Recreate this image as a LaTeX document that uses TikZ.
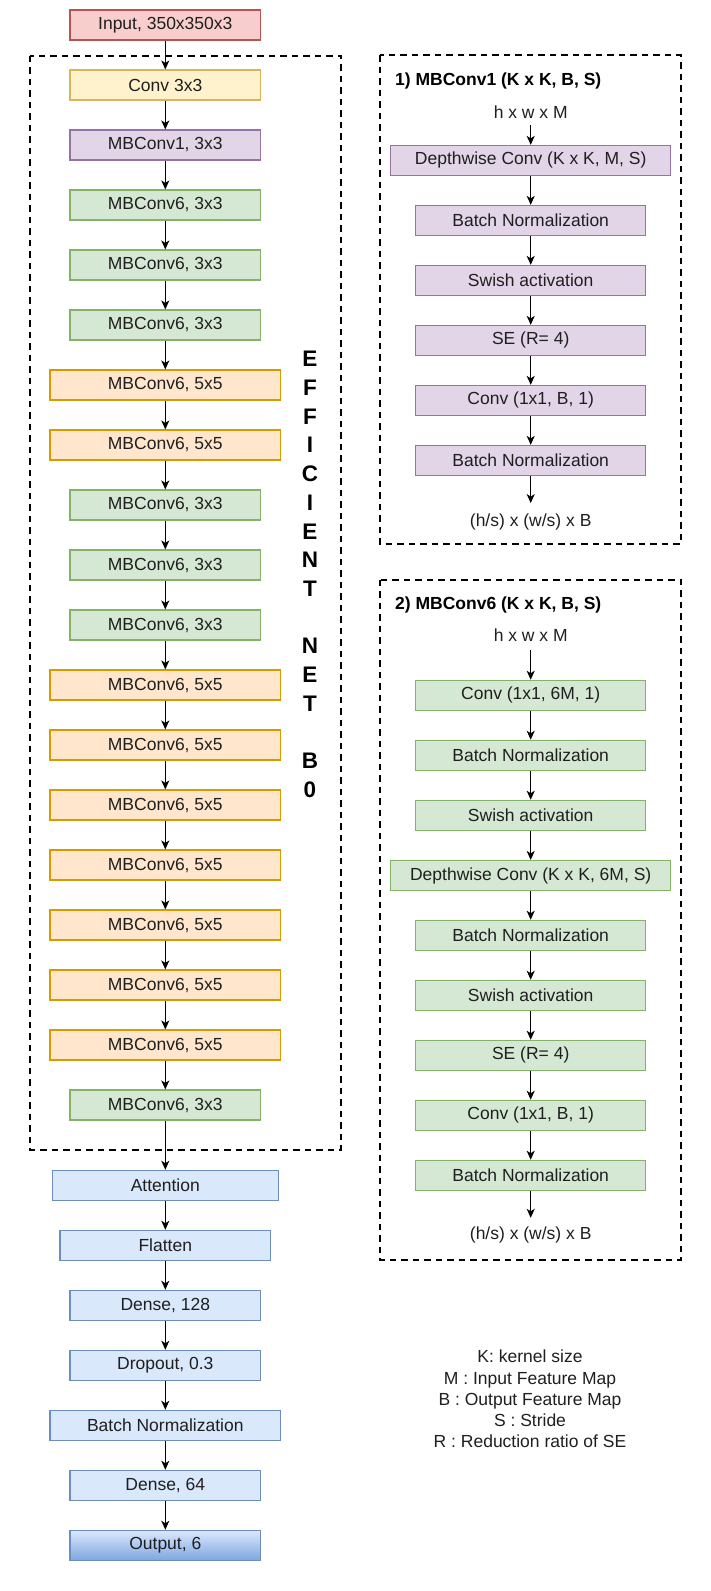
\documentclass[tikz,border=0pt]{standalone}
\usepackage{fontspec}
\setmainfont{Liberation Sans}
\usetikzlibrary{arrows.meta}

\definecolor{txt}{HTML}{1F1F1F}
\definecolor{redF}{HTML}{F8CECC}\definecolor{redS}{HTML}{B85450}
\definecolor{yelF}{HTML}{FFF2CC}\definecolor{yelS}{HTML}{D6B656}
\definecolor{purF}{HTML}{E1D5E7}\definecolor{purS}{HTML}{9673A6}
\definecolor{grnF}{HTML}{D5E8D4}\definecolor{grnS}{HTML}{82B366}
\definecolor{orgF}{HTML}{FFE6CC}\definecolor{orgS}{HTML}{D79B00}
\definecolor{bluF}{HTML}{DAE8FC}\definecolor{bluS}{HTML}{6C8EBF}
\definecolor{bluD}{HTML}{7EA6E0}

\newcommand{\bodyfont}{\fontsize{17.5}{21}\selectfont}
\newcommand{\bigbold}{\fontsize{22.5}{28.7}\selectfont\bfseries}

\begin{document}
\begin{tikzpicture}[x=1pt,y=-1pt,
  box/.style={draw, line width=1.1pt, minimum height=30pt, inner sep=0pt,
              font=\bodyfont, text=txt},
  narrow/.style={box, minimum width=190.7pt},
  wide/.style={box, minimum width=230.7pt},
  inp/.style={narrow, fill=redF, draw=redS},
  cv/.style={narrow, fill=yelF, draw=yelS},
  mb1/.style={narrow, fill=purF, draw=purS},
  g3/.style={narrow, fill=grnF, draw=grnS},
  o5/.style={wide, fill=orgF, draw=orgS},
  att/.style={box, minimum width=225.6pt, fill=bluF, draw=bluS},
  flt/.style={box, minimum width=210.7pt, fill=bluF, draw=bluS},
  bn/.style={narrow, fill=bluF, draw=bluS},
  bw/.style={wide, fill=bluF, draw=bluS},
  outp/.style={narrow, draw=bluS, top color=bluF, bottom color=bluD},
  pw/.style={box, minimum width=280pt},
  pn/.style={box, minimum width=230pt},
  pur/.style={fill=purF, draw=purS},
  grn/.style={fill=grnF, draw=grnS},
  lbl/.style={inner sep=0pt, font=\bodyfont, text=txt},
  arr/.style={draw=black, line width=1.2pt, -{Stealth[length=9pt,width=8pt,inset=2.5pt]}},
  frame/.style={draw=black, line width=2pt, dash pattern=on 6.5pt off 5pt}
]
\useasboundingbox[fill=white] (0,0) rectangle (711,1591);

% dashed frames
\draw[frame] (30.3,55.7) rectangle (340.7,1150);
\draw[frame] (380,55) rectangle (680.7,544);
\draw[frame] (380,579.5) rectangle (680.7,1260);

% main network column
\foreach \n/\y/\s/\t in {
   1/25/inp/{Input, 350x350x3},
   2/85/cv/{Conv 3x3},
   3/145/mb1/{MBConv1, 3x3},
   4/205/g3/{MBConv6, 3x3},
   5/265/g3/{MBConv6, 3x3},
   6/325/g3/{MBConv6, 3x3},
   7/385/o5/{MBConv6, 5x5},
   8/445/o5/{MBConv6, 5x5},
   9/505/g3/{MBConv6, 3x3},
   10/565/g3/{MBConv6, 3x3},
   11/625/g3/{MBConv6, 3x3},
   12/685/o5/{MBConv6, 5x5},
   13/745/o5/{MBConv6, 5x5},
   14/805/o5/{MBConv6, 5x5},
   15/865/o5/{MBConv6, 5x5},
   16/925/o5/{MBConv6, 5x5},
   17/985/o5/{MBConv6, 5x5},
   18/1045/o5/{MBConv6, 5x5},
   19/1105/g3/{MBConv6, 3x3},
   20/1185.3/att/{Attention},
   21/1245.3/flt/{Flatten},
   22/1305.3/bn/{Dense, 128},
   23/1365.3/bn/{Dropout, 0.3},
   24/1425.3/bw/{Batch Normalization},
   25/1485.3/bn/{Dense, 64},
   26/1545.3/outp/{Output, 6}}
  \node[\s] (b\n) at (165.3,\y) {\t};

\foreach \i [evaluate=\i as \j using int(\i+1)] in {1,...,25}
  \draw[arr] (b\i.south) -- (b\j.north);

% vertical label
\node[inner sep=0pt, align=center, font=\bigbold, text=black] (lab) at (310,574.5)
  {E\\F\\F\\I\\C\\I\\E\\N\\T\\\mbox{}\\N\\E\\T\\\mbox{}\\B\\0};

% MBConv1 block
\node[anchor=west, inner sep=0pt, font=\bodyfont\bfseries, text=black] (t1) at (395,80.7)
  {1) MBConv1 (K x K, B, S)};
\node[lbl, minimum height=26.6pt] (i1) at (530.7,111.7) {h x w x M};
\node[pw, pur] (p1) at (530.7,160.4) {Depthwise Conv (K x K, M, S)};
\node[pn, pur] (p2) at (530.7,220.4) {Batch Normalization};
\node[pn, pur] (p3) at (530.7,280.4) {Swish activation};
\node[pn, pur] (p4) at (530.7,340.4) {SE (R= 4)};
\node[pn, pur] (p5) at (530.7,400.4) {Conv (1x1, B, 1)};
\node[pn, pur] (p6) at (530.7,460.4) {Batch Normalization};
\node[lbl, minimum height=36.8pt] (o1) at (530.7,521.7) {(h/s) x (w/s) x B};
\draw[arr] (i1.south) -- (p1.north);
\foreach \i [evaluate=\i as \j using int(\i+1)] in {1,...,5}
  \draw[arr] (p\i.south) -- (p\j.north);
\draw[arr] (p6.south) -- (o1.north);

% MBConv6 block
\node[anchor=west, inner sep=0pt, font=\bodyfont\bfseries, text=black] (t2) at (395,605)
  {2) MBConv6 (K x K, B, S)};
\node[lbl, minimum height=30pt] (i2) at (530.7,635) {h x w x M};
\node[pn, grn] (q1) at (530.7,695.3) {Conv (1x1, 6M, 1)};
\node[pn, grn] (q2) at (530.7,755.3) {Batch Normalization};
\node[pn, grn] (q3) at (530.7,815.3) {Swish activation};
\node[pw, grn] (q4) at (530.7,875.5) {Depthwise Conv (K x K, 6M, S)};
\node[pn, grn] (q5) at (530.7,935.3) {Batch Normalization};
\node[pn, grn] (q6) at (530.7,995.3) {Swish activation};
\node[pn, grn] (q7) at (530.7,1055.3) {SE (R= 4)};
\node[pn, grn] (q8) at (530.7,1115.3) {Conv (1x1, B, 1)};
\node[pn, grn] (q9) at (530.7,1175.3) {Batch Normalization};
\node[lbl, minimum height=34pt] (o2) at (530.7,1235) {(h/s) x (w/s) x B};
\draw[arr] (i2.south) -- (q1.north);
\foreach \i [evaluate=\i as \j using int(\i+1)] in {1,...,8}
  \draw[arr] (q\i.south) -- (q\j.north);
\draw[arr] (q9.south) -- (o2.north);

% legend
\node[lbl, align=center, font=\fontsize{17.5}{21.25}\selectfont] (leg) at (530,1399.2)
  {K: kernel size\\M : Input Feature Map\\B : Output Feature Map\\S : Stride\\R : Reduction ratio of SE};
\end{tikzpicture}
\end{document}
